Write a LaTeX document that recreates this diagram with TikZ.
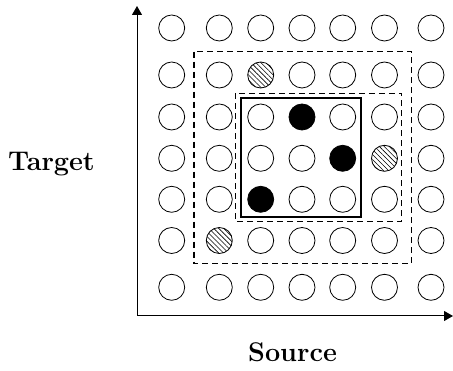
\documentclass[tikz,border=0pt]{standalone}
\usetikzlibrary{arrows.meta,patterns.meta}

\tikzset{
  dot/.style={circle,draw,line width=.8pt,minimum size=26pt,inner sep=0pt},
  full/.style={fill=black},
  hatched/.style={pattern={Lines[angle=-45,distance=3.5pt,line width=.6pt]}},
  region/.style={line width=1.5pt,dash pattern=on 6pt off 4pt},
  window/.style={line width=2pt},
  axis/.style={line width=1pt,-{Triangle[length=9pt,width=10pt]}},
  lbl/.style={font=\fontsize{27}{32}\selectfont\bfseries,anchor=base},
  % which cells are marked
  cell 2-3/.style={hatched}, cell 4-6/.style={hatched}, cell 6-2/.style={hatched},
  cell 3-4/.style={full}, cell 4-5/.style={full}, cell 5-3/.style={full}
}

\begin{document}
\begin{tikzpicture}[x=1pt,y=-1pt]
  \useasboundingbox (0,0) rectangle (453,371);

  % grid of positions
  \foreach \r/\y in {1/28,2/75,3/117,4/158.3,5/199.3,6/240.5,7/287.3}
    \foreach \c/\x in {1/171.7,2/219.3,3/260.7,4/302,5/342.7,6/384.5,7/431}
      \node[dot,cell \r-\c/.try] (c\r\c) at (\x,\y) {};

  % boxes
  \draw[region] (194,51.7) rectangle (411.7,263.3);
  \draw[region] (235.7,93.3) rectangle (401.7,221.7);
  \draw[window] (241,98.3) rectangle (360.7,216.7);

  % axes
  \coordinate (o) at (137,316);
  \coordinate (ytip) at (137,6);
  \coordinate (xtip) at (453,316);
  \draw[axis] (o) -- (ytip);
  \draw[axis] (o) -- (xtip);

  \node[lbl] (target) at (51.5,170.7) {Target};
  \node[lbl] (source) at (292.5,361.7) {Source};

\end{tikzpicture}
\end{document}
